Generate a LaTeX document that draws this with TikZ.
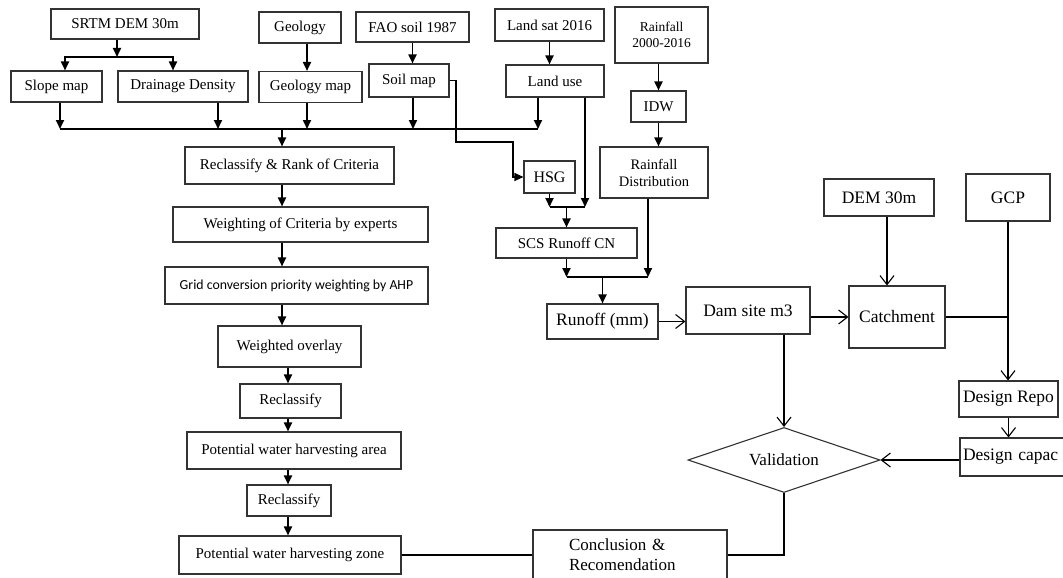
\documentclass[tikz,border=0pt]{standalone}
\usepackage{fontspec}
\setmainfont{Liberation Serif}
\newfontfamily\gridfont{Carlito}
\usetikzlibrary{arrows.meta,shapes.geometric}

\tikzset{
  box/.style={draw=black!80, line width=1.1pt, inner sep=0pt, align=center,
    font=\fontsize{15}{17}\selectfont},
  bigbox/.style={box, font=\fontsize{17.5}{20}\selectfont},
  flow/.style={line width=1.8pt, -{Triangle[length=9pt,width=8pt]}},
  bar/.style={line width=1.8pt},
  link/.style={line width=1.1pt, -{Straight Barb[length=9pt,width=14pt]}},
  plain/.style={line width=1.1pt}
}

\begin{document}
\begin{tikzpicture}[x=1pt,y=-1pt]
   \useasboundingbox (0,0) rectangle (1063,578);
   \clip (0,0) rectangle (1063,578);
   % input data
   \node [box,minimum width=148pt,minimum height=30pt] (srtm) at (125,24) {SRTM DEM 30m};
   \node [box,minimum width=82pt,minimum height=31pt] (geol) at (300,27.5) {Geology};
   \node [box,minimum width=113pt,minimum height=30pt] (fao) at (412.5,27) {FAO soil 1987};
   \node [box,minimum width=109pt,minimum height=32pt] (landsat) at (549.5,25) {Land sat 2016};
   \node [box,minimum width=93pt,minimum height=56pt,font=\fontsize{13.5}{16}\selectfont] (rain) at (661.5,35) {Rainfall\\2000-2016};
   % derived maps
   \node [box,minimum width=91pt,minimum height=31pt] (slope) at (56.5,86.5) {Slope map};
   \node [box,minimum width=130pt,minimum height=31pt] (drain) at (183,86.5) {Drainage Density};
   \node [box,minimum width=103pt,minimum height=31pt] (geolmap) at (310.5,87) {Geology map};
   \node [box,minimum width=80pt,minimum height=33pt] (soil) at (409,80.5) {Soil map};
   \node [box,minimum width=98pt,minimum height=32pt] (landuse) at (555,81) {Land use};
   \node [box,minimum width=55pt,minimum height=31pt] (idw) at (658.5,106.5) {IDW};
   \node [box,minimum width=108pt,minimum height=51pt,font=\fontsize{14.5}{17}\selectfont] (raindist) at (654,172.5) {Rainfall\\Distribution};
   % criteria chain
   \node [box,minimum width=209pt,minimum height=37pt] (rank) at (289.5,165.5) {Reclassify \& Rank of Criteria};
   \node [box,minimum width=255pt,minimum height=35pt] (weight) at (300.5,224.5) {Weighting of Criteria by experts};
   \node [box,minimum width=263pt,minimum height=37pt,font=\gridfont\fontsize{13.8}{16}\selectfont] (ahp) at (296.5,285.5) {Grid conversion priority weighting by AHP};
   \node [box,minimum width=143pt,minimum height=41pt] (overlay) at (289.5,346.5) {Weighted overlay};
   \node [box,minimum width=101pt,minimum height=34pt] (reclA) at (290.5,401) {Reclassify};
   \node [box,minimum width=214pt,minimum height=37pt] (area) at (294,450.5) {Potential water harvesting area};
   \node [box,minimum width=84pt,minimum height=31pt] (reclB) at (289,500.5) {Reclassify};
   \node [box,minimum width=222pt,minimum height=38pt] (zone) at (290,555) {Potential water harvesting zone};
   % runoff chain
   \node [box,minimum width=51pt,minimum height=32pt,font=\fontsize{16}{18}\selectfont] (hsg) at (549.5,177) {HSG};
   \node [box,minimum width=141pt,minimum height=30pt] (scs) at (566.5,243) {SCS Runoff CN};
   \node [bigbox,minimum width=111pt,minimum height=35pt] (runoff) at (602.5,321.5) {Runoff (mm)};
   % dam design
   \node [bigbox,minimum width=124pt,minimum height=47pt] (dam) at (748,310.5) {Dam site m3};
   \node [bigbox,minimum width=96pt,minimum height=62pt] (catch) at (897,317) {Catchment};
   \node [bigbox,minimum width=110pt,minimum height=37pt] (dem) at (879,197.5) {DEM 30m};
   \node [bigbox,minimum width=84pt,minimum height=47pt] (gcp) at (1008,197.5) {GCP};
   \node [bigbox,minimum width=99pt,minimum height=36pt] (repo) at (1008.5,399) {Design Repo};
   \node [bigbox,text width=100pt,inner xsep=3pt,minimum height=38pt,align=left] (capac) at (1013,457) {Design capac};
   \node [diamond,draw=black!80,line width=1.1pt,inner sep=0pt,aspect=3,minimum width=192pt,minimum height=65pt,font=\fontsize{17}{20}\selectfont] (valid) at (784,460) {Validation};
   \node [bigbox,text width=122pt,inner xsep=36pt,minimum height=50pt,align=left,font=\fontsize{17}{20}\selectfont] (concl) at (630,555) {Conclusion \&\\Recomendation};

   % junction points
   \coordinate (srtmfork) at (117,57);
   \coordinate (slopein) at (65,57);
   \coordinate (drainin) at (173,57);
   \coordinate (bus) at (282,129);
   \coordinate (slopeout) at (60,129);
   \coordinate (drainout) at (218,129);
   \coordinate (geolout) at (307,129);
   \coordinate (soilout) at (413,129);
   \coordinate (luout) at (538,129);
   \coordinate (spine) at (288,380);
   \coordinate (soilbend) at (456,142);
   \coordinate (hsgbend) at (513,142);
   \coordinate (luside) at (585,207);
   \coordinate (runjoin) at (604,277);
   \coordinate (rdout) at (648,277);
   \coordinate (demx) at (887,250);

   % SRTM split
   \draw [flow] (srtm.south -| srtmfork) -- (srtmfork);
   \draw [line width=1.8pt,{Triangle[length=9pt,width=8pt]}-{Triangle[length=9pt,width=8pt]}] (slopein |- slope.north) -- (slopein) -- (drainin) -- (drainin |- drain.north);
   \draw [flow] (geol.south -| geolout) -- (geolout |- geolmap.north);
   \draw [flow] (fao.south) -- (fao.south |- soil.north);
   \draw [flow] (landsat.south) -- (landsat.south |- landuse.north);
   \draw [flow] (rain.south -| idw) -- (idw.north);
   \draw [flow] (idw.south) -- (idw.south |- raindist.north);
   % criteria bus
   \draw [flow] (slope.south -| slopeout) -- (slopeout);
   \draw [flow] (drain.south -| drainout) -- (drainout);
   \draw [flow] (geolmap.south -| geolout) -- (geolout);
   \draw [flow] (soil.south -| soilout) -- (soilout);
   \draw [flow] (landuse.south -| luout) -- (luout);
   \draw [bar] (slopeout) -- (luout);
   \draw [flow] (bus) -- (bus |- rank.north);
   \draw [flow] (rank.south -| bus) -- (bus |- weight.north);
   \draw [flow] (weight.south -| bus) -- (bus |- ahp.north);
   \draw [flow] (ahp.south -| bus) -- (bus |- overlay.north);
   \draw [flow] (overlay.south -| spine) -- (spine |- reclA.north);
   \draw [flow] (reclA.south -| spine) -- (spine |- area.north);
   \draw [flow] (area.south -| spine) -- (spine |- reclB.north);
   \draw [flow] (reclB.south -| spine) -- (spine |- zone.north);
   % runoff
   \draw [line width=1.1pt,-{Triangle[length=9pt,width=8pt]}] (soil.east) -| (soilbend) -- (hsgbend) |- (hsg.west);
   \draw [flow] (landuse.south -| luside) -- (luside);
   \draw [flow] (hsg.south) -- (hsg.south |- luside);
   \draw [bar] (hsg.south |- luside) -- (luside);
   \draw [flow] (scs.north |- luside) -- (scs.north);
   \draw [flow] (scs.south) -- (scs.south |- runjoin);
   \draw [flow] (raindist.south -| rdout) -- (rdout);
   \draw [bar] (scs.south |- runjoin) -- (rdout);
   \draw [flow] (runoff.north |- runjoin) -- (runoff.north);
   % dam design
   \draw [link] (runoff.east) -- (runoff.east -| dam.west);
   \draw [link] (catch.west -| dam.east) -- (catch.west);
   \draw [link] (dem.south -| demx) -- (demx |- catch.north);
   \draw [link] (gcp.south) -- (gcp.south |- repo.north);
   \draw [plain] (catch.east) -- (catch.east -| gcp.south);
   \draw [link] (repo.south) -- (repo.south |- capac.north);
   \draw [link] (valid.east -| capac.west) -- (valid.east);
   \draw [link] (dam.south -| valid.north) -- (valid.north);
   \draw [plain] (valid.south) |- (concl.east);
   \draw [plain] (zone.east) -- (concl.west);
\end{tikzpicture}
\end{document}
